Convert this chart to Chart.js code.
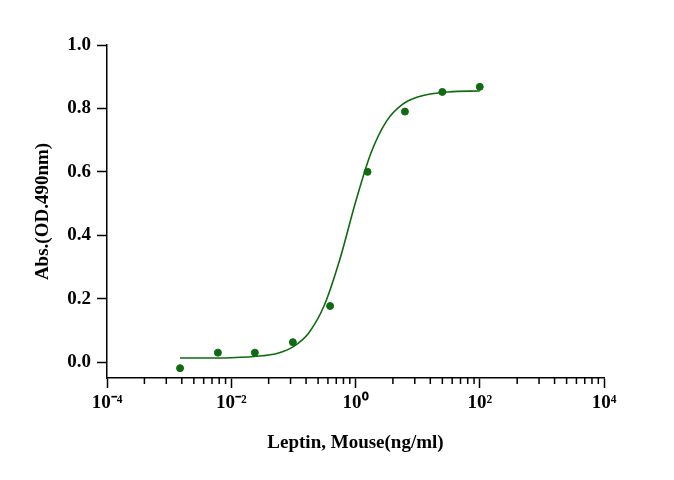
<!DOCTYPE html>
<html><head><meta charset="utf-8">
<script src="https://cdn.jsdelivr.net/npm/chart.js@4"></script>
<style>body{margin:0;background:#fff}</style>
</head><body>
<canvas id="c" width="674" height="480"></canvas>
<script>
// measured points (ng/ml, OD490)
const concs = [0.0015, 0.0061, 0.024, 0.098, 0.39, 1.5625, 6.25, 25, 100];
const absVals = [-0.019, 0.030, 0.030, 0.063, 0.177, 0.600, 0.790, 0.852, 0.868];
// fitted curve
const curveX = [0.0015, 0.003, 0.01, 0.032, 0.056, 0.1, 0.178, 0.316, 0.562, 1, 1.78, 3.16, 5.62, 10, 31.6, 100];
const curveY = [0.013, 0.013, 0.014, 0.020, 0.028, 0.049, 0.093, 0.180, 0.325, 0.504, 0.660, 0.760, 0.812, 0.836, 0.852, 0.855];
const majorTicks = [1e-4, 1e-2, 1, 1e2, 1e4];
const majorLabels = ['10⁻⁴', '10⁻²', '10⁰', '10²', '10⁴'];
const yTicks = [0, 0.2, 0.4, 0.6, 0.8, 1.0];

const green = '#0f6a12';
const font = {family:'Liberation Serif', weight:'bold', size:19};

const minorTicks = {
  id:'minorTicks',
  afterDraw(chart){
    const sx = chart.scales.x, ctx = chart.ctx, yb = chart.chartArea.bottom;
    ctx.save(); ctx.strokeStyle='#000'; ctx.lineWidth=1.5;
    for(let d=-4; d<4; d+=2){
      for(let k=2; k<=9; k++){
        const px = sx.getPixelForValue(Math.pow(10, d + 2*Math.log10(k)));
        ctx.beginPath(); ctx.moveTo(px, yb); ctx.lineTo(px, yb+6); ctx.stroke();
      }
    }
    ctx.restore();
  }
};

new Chart(document.getElementById('c'), {
  type:'scatter',
  data:{datasets:[
    {data:concs.map((x,i)=>({x, y:absVals[i]})), backgroundColor:green, borderColor:green, pointRadius:3.5},
    {type:'line', data:curveX.map((x,i)=>({x, y:curveY[i]})), borderColor:green, borderWidth:1.6, pointRadius:0, tension:0.4, cubicInterpolationMode:'monotone', fill:false}
  ]},
  options:{
    responsive:false, animation:false,
    layout:{padding:{top:45, right:70, left:28, bottom:0}},
    plugins:{legend:{display:false}, tooltip:{enabled:false}},
    scales:{
      x:{type:'logarithmic', min:1e-4, max:1e4,
        afterBuildTicks(s){ s.ticks = majorTicks.map(v=>({value:v})); },
        afterFit(s){ s.height = 102; },
        ticks:{color:'#000', font, autoSkip:false, maxRotation:0, padding:4,
          callback:(v)=>majorLabels[majorTicks.indexOf(v)] ?? ''},
        grid:{drawOnChartArea:false, color:'#000', tickLength:10, tickWidth:1.5},
        border:{color:'#000', width:1.5},
        title:{display:true, text:'Leptin, Mouse(ng/ml)', color:'#000', font, padding:{top:10, bottom:26}}
      },
      y:{min:-0.05, max:1.0,
        afterBuildTicks(s){ s.ticks = yTicks.map(v=>({value:v})); },
        afterFit(s){ s.width = 79; },
        ticks:{color:'#000', font, padding:6, callback:(v)=>v.toFixed(1)},
        grid:{drawOnChartArea:false, color:'#000', tickLength:10, tickWidth:1.5},
        border:{color:'#000', width:1.5},
        title:{display:true, text:'Abs.(OD.490nm)', color:'#000', font}
      }
    }
  },
  plugins:[minorTicks]
});
</script>
</body></html>
